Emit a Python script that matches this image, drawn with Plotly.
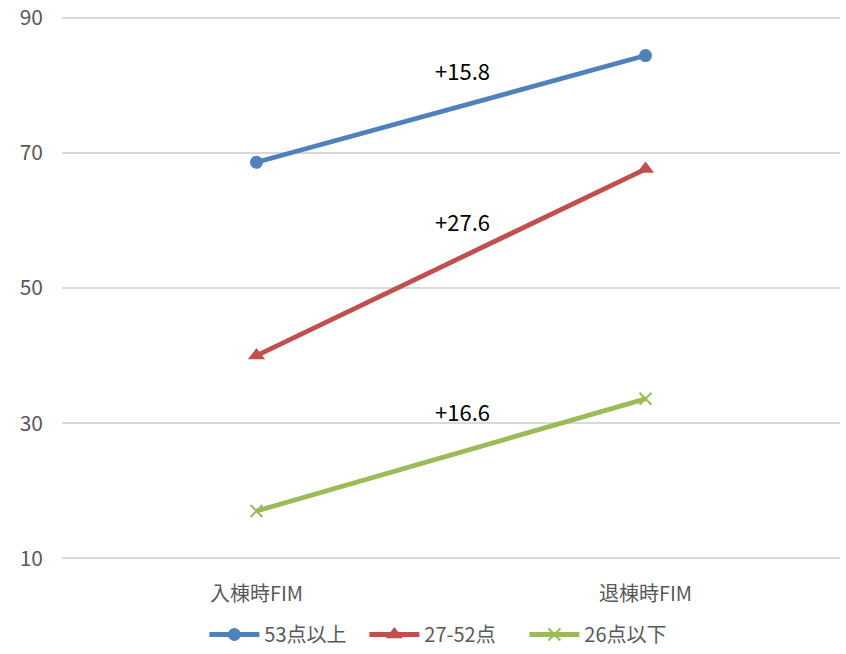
import plotly.graph_objects as go

categories = ["入棟時FIM", "退棟時FIM"]
series_names = ["53点以上", "27-52点", "26点以下"]
high_values = [68.6, 84.4]
mid_values = [40.0, 67.6]
low_values = [17.0, 33.6]
gain_labels = ["+15.8", "+27.6", "+16.6"]
gain_label_y = [82.3, 59.9, 31.8]

colors = ["#4F81BD", "#C0504D", "#9BBB59"]
symbols = ["circle", "triangle-up", "x-thin"]
sizes = [13, 15, 12]

fig = go.Figure()
for name, vals, c, s, sz in zip(series_names, [high_values, mid_values, low_values], colors, symbols, sizes):
    marker = dict(symbol=s, size=sz, color=c)
    if s == "x-thin":
        marker = dict(symbol=s, size=sz, color=c, line=dict(width=2, color=c))
    fig.add_trace(go.Scatter(
        x=[0, 1], y=vals, name=name, mode="lines+markers",
        line=dict(color=c, width=4.8), marker=marker,
    ))

for txt, yv in zip(gain_labels, gain_label_y):
    fig.add_annotation(x=0.53, y=yv, text=txt, showarrow=False,
                       font=dict(size=22, color="#000000"))

fig.update_layout(
    width=846, height=654,
    margin=dict(l=62, r=6, t=16, b=94, autoexpand=False),
    paper_bgcolor="white", plot_bgcolor="white",
    font=dict(family="Noto Sans CJK JP, Open Sans, sans-serif", color="#595959", size=20),
    showlegend=True,
    legend=dict(orientation="h", x=0.183, xanchor="left", yref="container",
                y=0.0, yanchor="bottom", entrywidth=95,
                font=dict(size=20, color="#595959"), itemwidth=50),
)
fig.update_xaxes(
    range=[-0.5, 1.5], tickmode="array", tickvals=[0, 1], ticktext=categories,
    showgrid=False, zeroline=False, showline=False, ticks="", ticklabelstandoff=20,
    tickfont=dict(size=20), automargin=False,
)
fig.update_yaxes(
    range=[9.75, 90.25], tickvals=[10, 30, 50, 70, 90], showgrid=True, gridcolor="#D9D9D9",
    gridwidth=1.5, zeroline=False, showline=False, ticks="", ticklabelstandoff=18,
    tickfont=dict(size=21), automargin=False,
)

fig.write_html("out.html", config={"displayModeBar": False},
               post_script="document.body.style.margin='0';")
